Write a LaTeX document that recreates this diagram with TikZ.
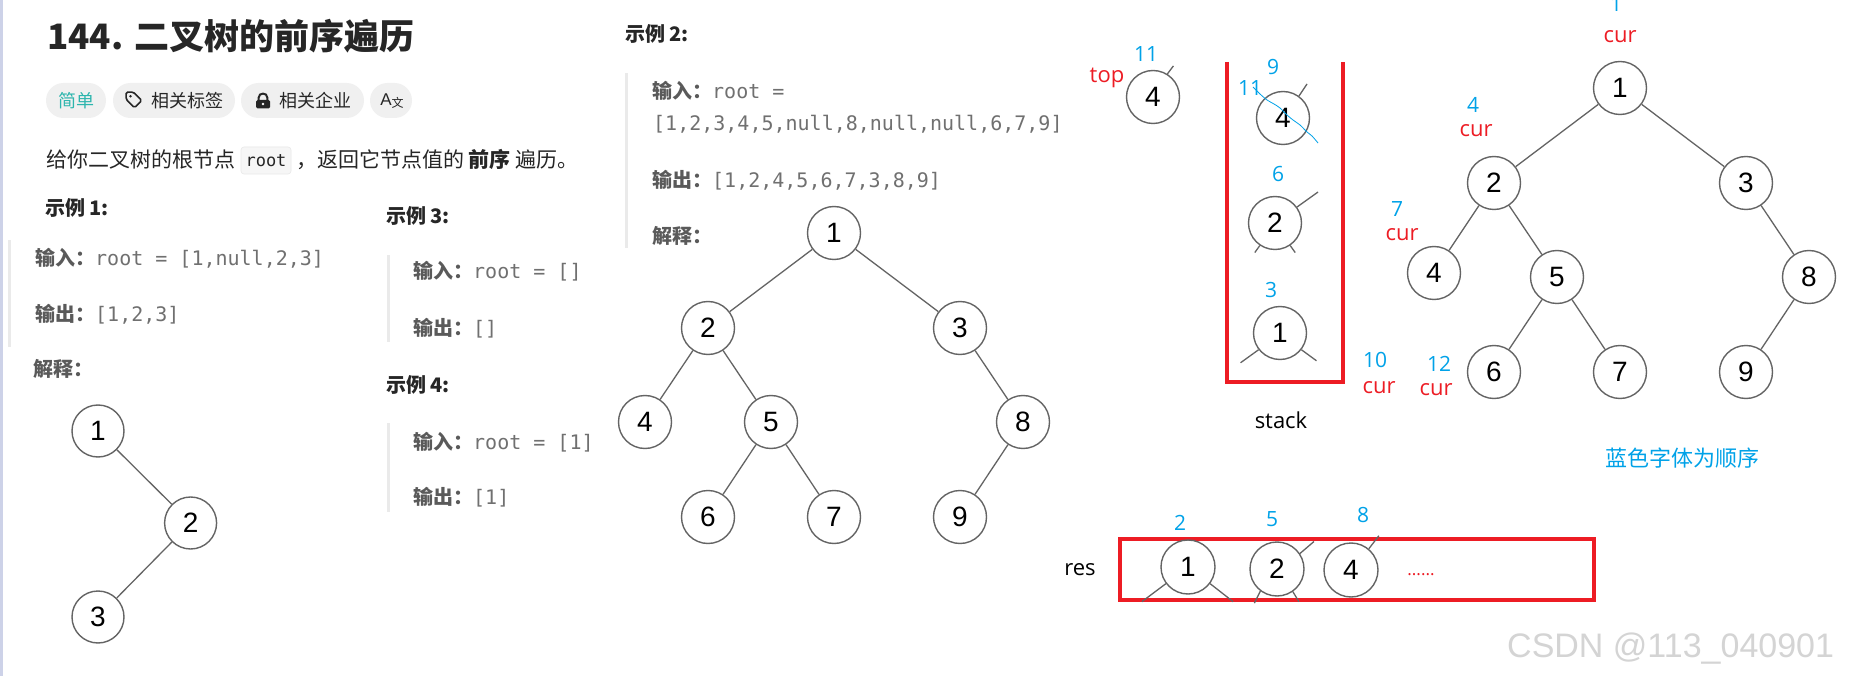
\documentclass[tikz,border=0pt]{standalone}
\usepackage{fontspec}
\setmainfont{Noto Sans CJK SC}
\setmonofont{DejaVu Sans Mono}
\newfontfamily\arialf{Liberation Sans}
\newfontfamily\annof{Open Sans}
\newcommand\setfs[1]{\fontsize{#1}{#1}\selectfont}
\definecolor{ordblue}{RGB}{0,162,232}
\definecolor{ordred}{RGB}{237,28,36}
\definecolor{inkgray}{RGB}{38,38,38}
\definecolor{labgray}{RGB}{90,90,90}
\definecolor{codegray}{RGB}{112,112,112}
\definecolor{quotebar}{RGB}{234,234,234}
\definecolor{pillgray}{RGB}{240,240,240}
\definecolor{easyteal}{RGB}{45,181,173}
\definecolor{edgegray}{RGB}{100,100,100}
\definecolor{sidebar}{RGB}{205,210,232}
\definecolor{codebg}{RGB}{246,246,246}
\definecolor{codeline}{RGB}{232,232,232}
\definecolor{wmgray}{RGB}{212,212,212}
\newcommand\codetxt[1]{{\color{codegray}\ttfamily #1}}
\begin{document}
\begin{tikzpicture}[x=1pt,y=-1pt]
\tikzstyle{tnode} = [circle,draw=edgegray,line width=1.4,minimum size=53,inner sep=0,
                     fill=white,font=\arialf\setfs{28}]
\tikzstyle{tedge} = [draw=edgegray,line width=1.3]
\tikzstyle{txt} = [inner sep=0,anchor=base west]
\tikzstyle{lab} = [txt,text=labgray,font=\setfs{20}]
\tikzstyle{head} = [txt,text=inkgray,font=\bfseries\setfs{20}]
\tikzstyle{seq} = [inner sep=0,anchor=base,text=ordblue,font=\annof\setfs{21}]
\tikzstyle{ptr} = [inner sep=0,anchor=base,text=ordred,font=\annof\setfs{22}]
\tikzstyle{redframe} = [draw=ordred,line width=3.2]
\tikzstyle{pill} = [fill=pillgray,rounded corners=17.5,minimum height=35,inner sep=0]
\tikzstyle{pilltext} = [inner sep=0,anchor=west,text=inkgray,font=\setfs{18}]
\useasboundingbox (0,0) rectangle (1861,676);
\fill[white] (0,0) rectangle (1861,676);
\fill[sidebar] (0,0) rectangle (3,676);

% problem header
\node [txt,text=inkgray,font=\bfseries\setfs{35}] (title) at (47,50) {144. 二叉树的前序遍历};
\node [pill,minimum width=60,text=easyteal,font=\setfs{18}] (easy) at (76,100.5) {简单};
\node [pill,minimum width=122] (tagpill) at (174,100.5) {};
\draw [inkgray,line width=1.6,rounded corners=1.5] (126.1,92.1) -- (133.3,92.1) -- (141.7,100.5)
      -- (134.5,107.7) -- (126.1,99.3) -- cycle;
\fill [inkgray] (130.5,96.3) circle (1.3);
\node [pilltext] (tagtxt) at (151,100.5) {相关标签};
\node [pill,minimum width=123] (corppill) at (302.5,100.5) {};
\draw [inkgray,line width=2] (258.7,100.5) -- (258.7,97.5) .. controls (258.7,92.3) and (267.3,92.3) .. (267.3,97.5) -- (267.3,100.5);
\fill [inkgray,rounded corners=1.5] (256,100) rectangle (270,108.5);
\fill [white] (263,104) circle (1.3);
\node [pilltext] (corptxt) at (279,100.5) {相关企业};
\node [pill,minimum width=42] (langpill) at (391,100.5) {};
\node [inner sep=0,text=inkgray] (langtxt) at (392,101) {{\arialf\setfs{17}A}\raisebox{-2pt}{\setfs{12}文}};
\node [txt,text=inkgray,font=\setfs{21}] (desc) at (46,168) {给你二叉树的根节点};
\node [fill=codebg,draw=codeline,rounded corners=3,line width=0.6,minimum width=50,minimum height=27,
       inner sep=0,text=inkgray,font=\ttfamily\setfs{17}] (rootcode) at (266,160.5) {root};
\node [txt,text=inkgray,font=\setfs{21}] (desc2) at (296,168) {，返回它节点值的 \textbf{前序} 遍历。};

% examples
\node [head] (ex1) at (45,216) {示例 1:};
\fill [quotebar] (8,240) rectangle (11,347);
\node [lab] (in1) at (35,266) {\textbf{输入：}\codetxt{root = [1,null,2,3]}};
\node [lab] (out1) at (35,322) {\textbf{输出：}\codetxt{[1,2,3]}};
\node [lab] (why1) at (33,377) {\textbf{解释：}};
\node [head] (ex3) at (386,224) {示例 3:};
\fill [quotebar] (387,255) rectangle (390,342);
\node [lab] (in3) at (413,279) {\textbf{输入：}\codetxt{root = []}};
\node [lab] (out3) at (413,335) {\textbf{输出：}\codetxt{[]}};
\node [head] (ex4) at (386,392) {示例 4:};
\fill [quotebar] (387,423) rectangle (390,512);
\node [lab] (in4) at (413,449) {\textbf{输入：}\codetxt{root = [1]}};
\node [lab] (out4) at (413,504) {\textbf{输出：}\codetxt{[1]}};
\node [head] (ex2) at (625,42) {示例 2:};
\fill [quotebar] (625,73) rectangle (628,248);
\node [lab] (in2) at (652,99) {\textbf{输入：}\codetxt{root =}};
\node [lab] (in2b) at (653,131) {\codetxt{[1,2,3,4,5,null,8,null,null,6,7,9]}};
\node [lab] (out2) at (652,188) {\textbf{输出：}\codetxt{[1,2,4,5,6,7,3,8,9]}};
\node [lab] (why2) at (652,244) {\textbf{解释：}};

% tree of example 1
\node [tnode,minimum size=52] (a1) at (98,431) {1};
\node [tnode,minimum size=52] (a2) at (190.6,523) {2};
\node [tnode,minimum size=52] (a3) at (98,617) {3};
\draw [tedge] (a1) -- (a2);
\draw [tedge] (a2) -- (a3);

% tree of example 2
\node [tnode] (b1) at (834,233) {1};
\node [tnode] (b2) at (708,328) {2};
\node [tnode] (b3) at (960,328) {3};
\node [tnode] (b4) at (645,422) {4};
\node [tnode] (b5) at (771,422) {5};
\node [tnode] (b8) at (1023,422) {8};
\node [tnode] (b6) at (708,517) {6};
\node [tnode] (b7) at (834,517) {7};
\node [tnode] (b9) at (960,517) {9};
\draw [tedge] (b1) -- (b2);
\draw [tedge] (b1) -- (b3);
\draw [tedge] (b2) -- (b4);
\draw [tedge] (b2) -- (b5);
\draw [tedge] (b5) -- (b6);
\draw [tedge] (b5) -- (b7);
\draw [tedge] (b3) -- (b8);
\draw [tedge] (b8) -- (b9);

% popped node and stack
\node [tnode] (t4) at (1153,97) {4};
\draw [tedge] (t4.58) -- ++(6,-8);
\node [seq] (n11a) at (1146,62) {11};
\node [ptr] (top) at (1107,83) {top};
\draw [redframe] (1227,62) -- (1227,382) -- (1343,382) -- (1343,62);
\node [tnode] (s4) at (1283,118) {4};
\draw [tedge] (s4.54) -- ++(8,-12);
\node [tnode] (s2) at (1275,223) {2};
\draw [tedge] (s2.36) -- ++(21,-15);
\draw [tedge] (s2.236) -- ++(-5,7);
\draw [tedge] (s2.304) -- ++(5,7);
\node [tnode] (s1) at (1280,333) {1};
\draw [tedge] (s1.218) -- ++(-18,13);
\draw [tedge] (s1.322) -- ++(15,11);
\node [seq] (n9) at (1273,75) {9};
\node [seq] (n11b) at (1250,96) {11};
\node [seq] (n6) at (1278,182) {6};
\node [seq] (n3) at (1271,298) {3};
\draw [ordblue,line width=0.8] plot [smooth] coordinates {(1253,87) (1260,94) (1267,100) (1274,104)
      (1280,108) (1287,115) (1293,120) (1300,125) (1307,132) (1312,136) (1318,143)};
\node [inner sep=0,anchor=base,font=\annof\setfs{22}] (stack) at (1281,428) {stack};

% traversal tree
\node [tnode] (c1) at (1620,88) {1};
\node [tnode] (c2) at (1494,183) {2};
\node [tnode] (c3) at (1746,183) {3};
\node [tnode] (c4) at (1434,273) {4};
\node [tnode] (c5) at (1557,277) {5};
\node [tnode] (c8) at (1809,277) {8};
\node [tnode] (c6) at (1494,372) {6};
\node [tnode] (c7) at (1620,372) {7};
\node [tnode] (c9) at (1746,372) {9};
\draw [tedge] (c1) -- (c2);
\draw [tedge] (c1) -- (c3);
\draw [tedge] (c2) -- (c4);
\draw [tedge] (c2) -- (c5);
\draw [tedge] (c5) -- (c6);
\draw [tedge] (c5) -- (c7);
\draw [tedge] (c3) -- (c8);
\draw [tedge] (c8) -- (c9);
\node [seq] (o1) at (1616,12) {1};
\node [ptr] (cur1) at (1620,43) {cur};
\node [seq] (o4) at (1473,113) {4};
\node [ptr] (cur4) at (1476,137) {cur};
\node [seq] (o7) at (1397,217) {7};
\node [ptr] (cur7) at (1402,241) {cur};
\node [seq] (o10) at (1375,367) {10};
\node [ptr] (cur10) at (1379,393) {cur};
\node [seq] (o12) at (1439,371) {12};
\node [ptr] (cur12) at (1436,395) {cur};
\node [txt,text=ordblue,font=\setfs{22}] (legend) at (1605,466) {蓝色字体为顺序};

% result list
\node [inner sep=0,anchor=base,font=\annof\setfs{22}] (res) at (1080,575) {res};
\draw [redframe] (1120,539) rectangle (1594,600);
\node [tnode,minimum size=54] (r1) at (1188,567) {1};
\draw [tedge] (r1.217) -- ++(-24,18);
\draw [tedge] (r1.323) -- ++(23,18);
\node [tnode,minimum size=54] (r2) at (1277,569) {2};
\draw [tedge] (r2.34) -- ++(14,-12);
\draw [tedge] (r2.233) -- ++(-6,12);
\draw [tedge] (r2.305) -- ++(6,10);
\node [tnode,minimum size=54] (r4) at (1351,570) {4};
\draw [tedge] (r4.50) -- ++(10,-13);
\node [seq] (o2) at (1180,530) {2};
\node [seq] (o5) at (1272,526) {5};
\node [seq] (o8) at (1363,522) {8};
\node [inner sep=0,anchor=base,text=ordred,font=\annof\setfs{17}] (more) at (1421,575) {......};

\node [txt,text=wmgray,font=\arialf\setfs{34}] (mark) at (1507,657) {CSDN @113\_040901};
\end{tikzpicture}
\end{document}
